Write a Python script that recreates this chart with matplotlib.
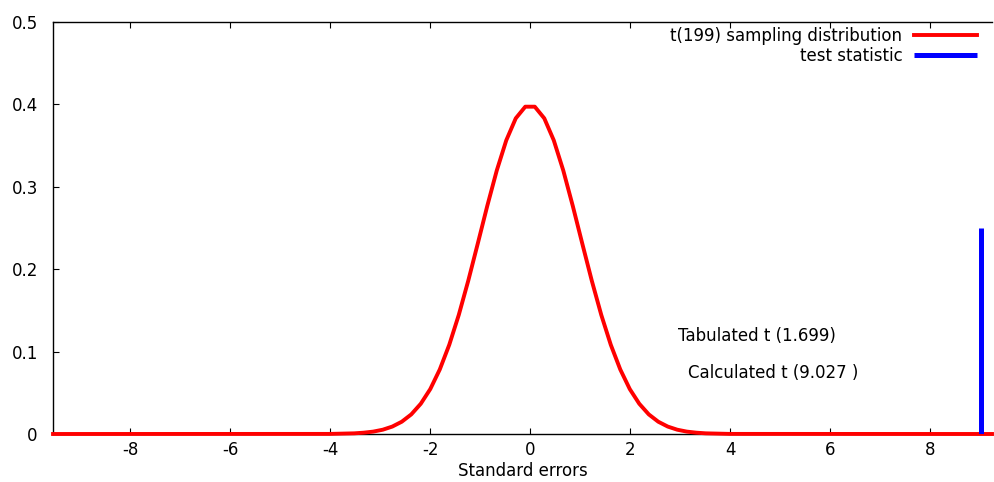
"""t(199) sampling distribution with the calculated test statistic."""
import matplotlib
matplotlib.use("Agg")
import matplotlib.pyplot as plt

plt.rcParams.update({
    "font.family": ["DejaVu Sans"],
    "font.size": 12,
})

# density of t(199) (standard errors, density)
curve_x = [-9.54, -4.0, -3.515, -3.325, -3.135, -2.945, -2.755, -2.565, -2.375, -2.185,
           -1.995, -1.805, -1.615, -1.425, -1.235, -1.045, -0.855, -0.665, -0.475,
           -0.285, -0.095, 0.095, 0.285, 0.475, 0.665, 0.855, 1.045, 1.235, 1.425,
           1.615, 1.805, 1.995, 2.185, 2.375, 2.565, 2.755, 2.945, 3.135, 3.325,
           3.515, 4.0, 9.24]
curve_y = [0.0, 0.0001, 0.0008, 0.0016, 0.0029, 0.0052, 0.0090, 0.0149, 0.0238, 0.0367,
           0.0545, 0.0783, 0.1083, 0.1445, 0.1861, 0.2311, 0.2768, 0.3198, 0.3564,
           0.3831, 0.3972, 0.3972, 0.3831, 0.3564, 0.3198, 0.2768, 0.2311, 0.1861,
           0.1445, 0.1083, 0.0783, 0.0545, 0.0367, 0.0238, 0.0149, 0.0090, 0.0052,
           0.0029, 0.0016, 0.0008, 0.0001, 0.0]

t_calc = 9.027
t_tab = 1.699
stat_height = 0.25

x_ticks = [-8, -6, -4, -2, 0, 2, 4, 6, 8]
y_ticks = [0, 0.1, 0.2, 0.3, 0.4, 0.5]
y_labels = ["0", "0.1", "0.2", "0.3", "0.4", "0.5"]

fig = plt.figure(figsize=(9.95, 4.82), dpi=100)
ax = fig.add_axes([0.0533, 0.0996, 0.9437, 0.8548])

ax.plot(curve_x, curve_y, color="#ff0000", linewidth=2.8,
        label="t(199) sampling distribution", clip_on=False, zorder=3)
ax.plot([t_calc, t_calc], [0, stat_height], color="#0000ff", linewidth=3.6,
        solid_capstyle="butt", label="test statistic", zorder=4)

ax.text(2.96, 0.119, f"Tabulated t ({t_tab})", va="center", ha="left")
ax.text(3.16, 0.074, f"Calculated t ({t_calc} )", va="center", ha="left")

ax.set_xlim(-9.54, 9.24)
ax.set_ylim(0, 0.5)
ax.set_xticks(x_ticks)
ax.set_xticklabels([str(v) for v in x_ticks])
ax.set_yticks(y_ticks)
ax.set_yticklabels(y_labels)
ax.tick_params(direction="in", length=4, width=0.8, top=True, right=False)
ax.tick_params(axis="x", pad=5)
ax.tick_params(axis="y", pad=11)
ax.spines["right"].set_visible(False)
for s in ("left", "bottom", "top"):
    ax.spines[s].set_linewidth(1.0)
ax.set_xlabel("Standard errors", labelpad=2)

ax.legend(loc="upper right", bbox_to_anchor=(0.995, 1.012), frameon=False,
          markerfirst=False, handlelength=3.8, handletextpad=0.7,
          labelspacing=0.1, borderaxespad=0.2)

fig.savefig("out.png")
